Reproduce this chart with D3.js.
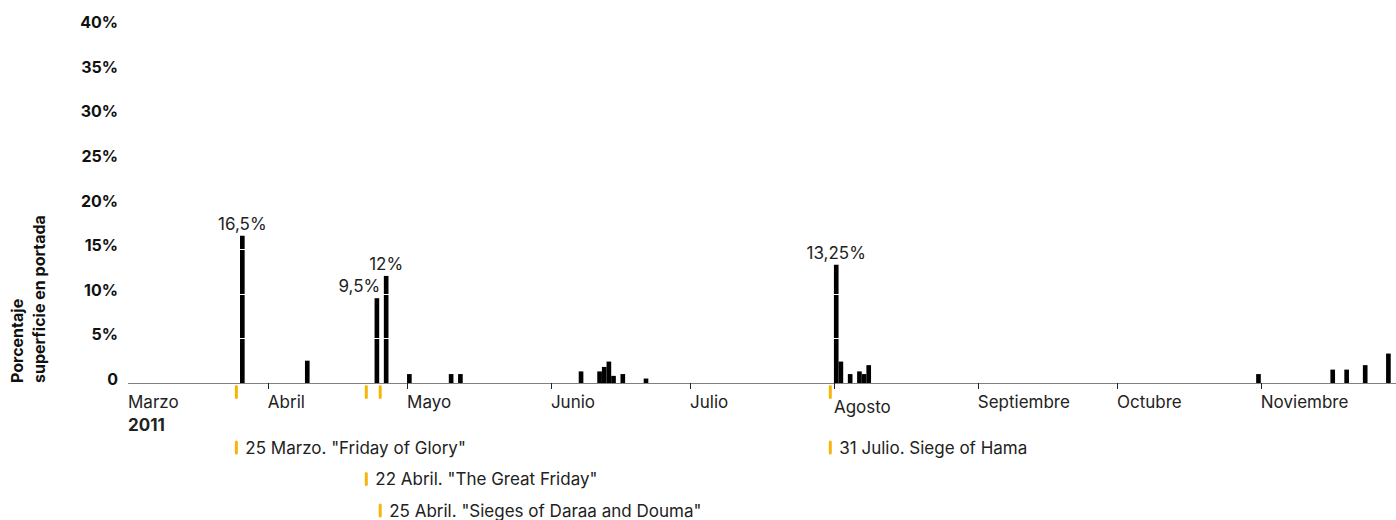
<!DOCTYPE html>
<html lang="es">
<head>
<meta charset="utf-8">
<title>Porcentaje superficie en portada</title>
<script src="https://d3js.org/d3.v7.min.js"></script>
<style>
    body {
        margin: 0;
        background: #fff;
        font-family: 'Inter', 'Roboto', sans-serif;
    }
    .tick-label { font-size: 16px; font-weight: 700; fill: #111; }
    .month-label { font-size: 17px; fill: #222; }
    .value-label { font-size: 17px; fill: #222; }
    .event-label { font-size: 17px; fill: #222; }
    .y-title { font-size: 16px; font-weight: 700; fill: #111; }
</style>
</head>
<body>
<div id="chart"></div>
<script>
// daily front-page share (%) for the days that had coverage
const barDates = ["2011-03-26", "2011-04-09", "2011-04-24", "2011-04-26", "2011-05-01",
    "2011-05-10", "2011-05-12", "2011-06-07", "2011-06-11", "2011-06-12", "2011-06-13",
    "2011-06-14", "2011-06-16", "2011-06-21", "2011-08-01", "2011-08-02", "2011-08-04",
    "2011-08-06", "2011-08-07", "2011-08-08", "2011-10-31", "2011-11-16", "2011-11-19",
    "2011-11-23", "2011-11-28"];
const barValues = [16.5, 2.5, 9.5, 12, 1, 1, 1, 1.3, 1.3, 1.8, 2.4, 0.8, 1, 0.5,
    13.25, 2.4, 1, 1.3, 1, 2, 1, 1.5, 1.5, 2, 3.3];

// labelled peaks: index into barDates, text, anchor
const peakIndex = [0, 2, 3, 14];
const peakLabels = ["16,5%", "9,5%", "12%", "13,25%"];
const peakAnchor = ["middle", "end", "middle", "middle"];

const monthNames = ["Marzo", "Abril", "Mayo", "Junio", "Julio", "Agosto",
    "Septiembre", "Octubre", "Noviembre"];
const yTicks = [0, 5, 10, 15, 20, 25, 30, 35, 40];

const eventDates = ["2011-03-25", "2011-04-22", "2011-04-25", "2011-07-31"];
const eventLabels = ['25 Marzo. "Friday of Glory"', '22 Abril. "The Great Friday"',
    '25 Abril. "Sieges of Daraa and Douma"', '31 Julio. Siege of Hama'];
const eventRows = [0, 1, 2, 0];

const W = 1396, H = 520;
const baseY = 383;
const yellow = "#f5b50a";

const svg = d3.select("#chart").append("svg")
    .attr("width", W)
    .attr("height", H);

const parse = d3.utcParse("%Y-%m-%d");

const x = d3.scaleUtc()
    .domain([Date.UTC(2011, 2, 1), Date.UTC(2011, 11, 1)])
    .range([124, 1400]);

const y = d3.scaleLinear()
    .domain([0, 40])
    .range([baseY, 26]);

const bars = barDates.map((d, i) => ({date: parse(d), value: barValues[i]}));

// y axis labels
svg.append("g").selectAll("text")
    .data(yTicks)
    .join("text")
    .attr("class", "tick-label")
    .attr("x", 118)
    .attr("y", d => y(d) - 4)
    .attr("text-anchor", "end")
    .attr("dominant-baseline", "central")
    .text(d => d === 0 ? "0" : d + "%");

// y title (two lines, rotated)
const yTitle = svg.append("text")
    .attr("class", "y-title")
    .attr("transform", `translate(0,${baseY}) rotate(-90)`)
    .attr("text-anchor", "start");
yTitle.append("tspan").attr("x", 0).attr("y", 23).text("Porcentaje");
yTitle.append("tspan").attr("x", 0).attr("y", 45).text("superficie en portada");

// bars, one day wide
svg.append("g").selectAll("rect")
    .data(bars)
    .join("rect")
    .attr("x", d => x(d.date))
    .attr("y", d => y(d.value))
    .attr("width", d => x(d3.utcDay.offset(d.date, 1)) - x(d.date))
    .attr("height", d => baseY - y(d.value))
    .attr("fill", "#000");

// white gridlines cutting through bars
svg.append("g").selectAll("line")
    .data(yTicks.filter(d => d > 0))
    .join("line")
    .attr("x1", 128)
    .attr("x2", W)
    .attr("y1", d => Math.round(y(d)) + 0.5)
    .attr("y2", d => Math.round(y(d)) + 0.5)
    .attr("stroke", "#fff")
    .attr("stroke-width", 1);

// x axis baseline
svg.append("line")
    .attr("x1", 128)
    .attr("x2", W)
    .attr("y1", baseY + 0.5)
    .attr("y2", baseY + 0.5)
    .attr("stroke", "#808080")
    .attr("stroke-width", 1.2);

// month ticks and labels
const months = d3.utcMonth.range(Date.UTC(2011, 2, 1), Date.UTC(2011, 11, 1));
const monthG = svg.append("g");
monthG.selectAll("line")
    .data(months.slice(1))
    .join("line")
    .attr("x1", d => Math.round(x(d)) + 0.5)
    .attr("x2", d => Math.round(x(d)) + 0.5)
    .attr("y1", baseY)
    .attr("y2", baseY + 6)
    .attr("stroke", "#222")
    .attr("stroke-width", 1);

monthG.selectAll("text")
    .data(months)
    .join("text")
    .attr("class", "month-label")
    .attr("x", d => Math.max(128, x(d)))
    .attr("y", (d, i) => monthNames[i] === "Agosto" ? 413 : 408)
    .text((d, i) => monthNames[i]);

svg.append("text")
    .attr("class", "month-label")
    .attr("x", 128)
    .attr("y", 431)
    .style("font-weight", "700")
    .text("2011");

// peak value labels
svg.append("g").selectAll("text")
    .data(peakIndex)
    .join("text")
    .attr("class", "value-label")
    .attr("x", (d, i) => {
        const b = bars[d];
        const x0 = x(b.date), x1 = x(d3.utcDay.offset(b.date, 1));
        return peakAnchor[i] === "end" ? x1 + 1 : (x0 + x1) / 2;
    })
    .attr("y", d => y(bars[d].value) - 6)
    .attr("text-anchor", (d, i) => peakAnchor[i])
    .text((d, i) => peakLabels[i]);

// event markers on the axis
const events = eventDates.map((d, i) => ({date: parse(d), label: eventLabels[i], row: eventRows[i]}));

svg.append("g").selectAll("line")
    .data(events)
    .join("line")
    .attr("x1", d => x(d.date) + 1)
    .attr("x2", d => x(d.date) + 1)
    .attr("y1", 386.5)
    .attr("y2", 397.5)
    .attr("stroke", yellow)
    .attr("stroke-width", 3)
    .attr("stroke-linecap", "round");

// event legend below
const rowBase = [453.5, 485, 516.5];
const evG = svg.append("g").selectAll("g")
    .data(events)
    .join("g")
    .attr("transform", d => `translate(${x(d.date) + 1},${rowBase[d.row]})`);

evG.append("line")
    .attr("y1", -11.5)
    .attr("y2", -0.5)
    .attr("stroke", yellow)
    .attr("stroke-width", 3)
    .attr("stroke-linecap", "round");

evG.append("text")
    .attr("class", "event-label")
    .attr("x", 9)
    .attr("y", 0)
    .text(d => d.label);
</script>
</body>
</html>
